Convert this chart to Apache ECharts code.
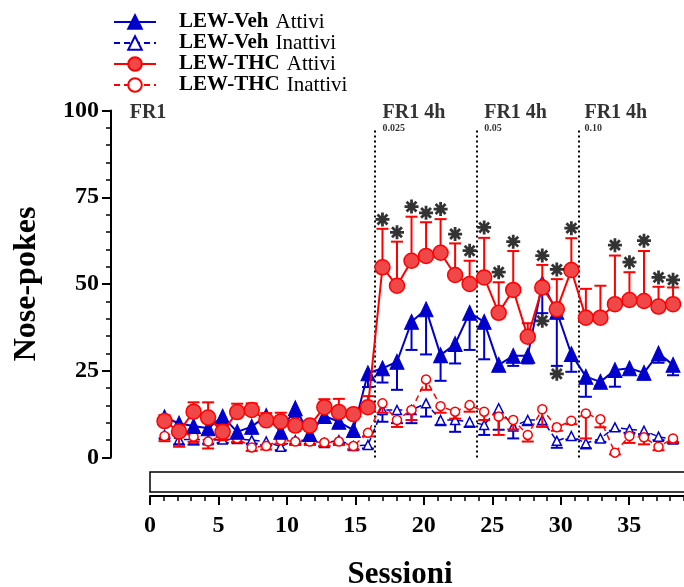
<!DOCTYPE html>
<html><head><meta charset="utf-8">
<script src="https://cdn.jsdelivr.net/npm/echarts@6/dist/echarts.min.js"></script>
<style>html,body{margin:0;padding:0;background:#fff}#c{width:684px;height:587px}</style>
</head><body><div id="c"></div>
<script>
// ---- data ----
const sessions = [1,2,3,4,5,6,7,8,9,10,11,12,13,14,15,16,17,18,19,20,21,22,23,24,25,26,27,28,29,30,31,32,33,34,35,36];
const xTicks = [0,5,10,15,20,25,30,35];
const yTicks = [0,25,50,75,100];
const groupNames = ['LEW-Veh','LEW-Veh','LEW-THC','LEW-THC'];
const statusNames = ['Attivi','Inattivi','Attivi','Inattivi'];

const vehAttivi = [11.6,9.8,9.1,8.4,11.8,7.4,8.9,12.0,7.4,14.2,6.8,12.0,10.3,7.9,24.3,25.7,27.6,39.1,42.7,29.5,32.7,41.7,39.1,26.7,29.3,29.3,50.2,42.0,29.8,23.3,21.8,25.2,25.7,24.4,30.0,26.7];
const vehAttiviSem = [1.5,1.5,1.5,1.5,2.5,1.5,2.0,2.5,1.5,2.5,1.5,2.0,1.5,1.5,4.0,4.1,8.1,8.1,13.0,7.4,5.6,10.7,10.8,1.5,2.9,2.2,8.6,15.6,5.1,5.8,1.2,4.8,1.3,1.9,2.7,3.0];
const vehInattivi = [6.5,5.2,5.2,5.0,5.2,5.3,5.0,4.6,3.1,5.0,4.9,4.2,5.0,3.3,3.6,13.7,13.7,13.7,15.6,10.8,10.8,10.3,9.4,14.2,8.9,10.8,10.8,4.8,6.2,4.1,5.5,8.7,8.1,7.7,6.0,5.2];
const vehInattiviSem = [1.0,1.5,1.5,1.0,1.0,1.0,1.0,1.0,1.0,1.0,1.0,1.0,1.0,1.0,1.0,3.4,3.8,3.8,3.8,1.5,3.4,1.5,2.9,6.2,3.4,1.5,1.9,2.0,1.0,1.5,1.0,1.0,1.0,1.0,1.0,1.0];
const thcAttivi = [10.5,7.5,13.2,11.5,7.4,13.1,13.7,10.7,10.4,9.2,9.2,14.5,13.1,12.5,14.5,54.8,49.5,56.7,58.1,59.0,52.6,50.0,51.9,41.7,48.3,34.8,49.0,42.7,54.0,40.3,40.3,44.2,45.4,45.1,43.5,44.2];
const thcAttiviSem = [1.7,1.0,2.7,4.4,2.0,2.4,1.9,2.1,2.5,1.3,1.3,2.3,3.8,1.0,3.2,11.1,12.7,12.7,9.7,9.7,9.1,6.7,11.4,8.8,11.2,3.9,6.5,8.7,9.2,8.3,9.2,14.0,8.0,14.4,5.7,4.8];
const thcInattivi = [6.2,7.5,6.0,4.6,6.5,5.5,2.9,3.3,5.0,4.6,4.6,4.3,4.6,3.3,7.1,15.6,10.8,13.7,22.5,14.8,13.2,15.1,13.2,11.8,10.8,6.5,13.9,8.7,10.6,12.7,11.0,1.4,6.2,5.8,3.1,5.5];
const thcInattiviSem = [1.5,4.4,1.5,2.0,1.5,1.0,1.0,1.0,1.0,1.0,1.0,1.0,1.0,1.0,1.0,2.7,2.0,2.9,3.0,1.9,2.0,1.9,2.4,5.3,2.7,1.9,5.0,1.0,1.0,7.2,2.3,0.5,2.0,2.0,1.0,1.0];

const starSessions = [16,17,18,19,20,21,22,23,24,25,27,28,29,32,33,34,35,36,27,28];
const starLevels   = [68.6,64.9,72.3,70.5,71.6,64.4,59.6,66.3,53.4,62.2,58.2,54.2,66.1,61.2,56.3,62.5,51.9,51.2,39.4,24.1];

const phaseBoundaries = [15.5,22.5,29.5];
const phaseLabels = ['FR1','FR1 4h','FR1 4h','FR1 4h'];
const phaseLabelX = [-1.4,16,23,29.9];
const doseLabels = ['0.025','0.05','0.10'];
const doseLabelX = [16,23,29.9];

// ---- chart ----
const FONT = '"Liberation Serif", "Times New Roman", serif';
const BLUE = '#0000CC', RED = '#FF0000', REDFILL = '#F04848';
const chart = echarts.init(document.getElementById('c'), null, {renderer:'canvas'});

function errSeries(vals, errs, dir, color, z){
  return {
    type:'custom', xAxisIndex:1, yAxisIndex:0, z:z, silent:true,
    data: sessions.map((s,i)=>[s, vals[i], vals[i] + dir*errs[i]]),
    renderItem(params, api){
      const p0 = api.coord([api.value(0), api.value(1)]);
      const p1 = api.coord([api.value(0), api.value(2)]);
      return {type:'group', children:[
        {type:'line', shape:{x1:p0[0],y1:p0[1],x2:p1[0],y2:p1[1]}, style:{stroke:color, lineWidth:2}},
        {type:'line', shape:{x1:p1[0]-6,y1:p1[1],x2:p1[0]+6,y2:p1[1]}, style:{stroke:color, lineWidth:2}}
      ]};
    }
  };
}
function pairs(vals){ return sessions.map((s,i)=>[s, vals[i]]); }

const STAR = 'path://M-1.2,-6L1.2,-6L1.2,6L-1.2,6Z M-6,-1.2L6,-1.2L6,1.2L-6,1.2Z M-5.1,-3.4L-3.4,-5.1L5.1,3.4L3.4,5.1Z M3.4,-5.1L5.1,-3.4L-3.4,5.1L-5.1,3.4Z';

const names = groupNames.map((g,i)=>g+' '+statusNames[i]);

const option = {
  animation:false,
  backgroundColor:'#fff',
  grid:{left:150, top:110.5, width:547.6, height:347, containLabel:false, outerBoundsMode:'none'},
  legend:{
    orient:'vertical', left:113, top:11.5, padding:0, itemGap:0, itemWidth:42, itemHeight:17,
    data: names, selectedMode:false,
    formatter: (n)=>{ const i = names.indexOf(n); return '{s|}{b|'+groupNames[i]+'}{g|}{n|'+statusNames[i]+'}'; },
    textStyle:{ color:'#000', rich:{
      s:{width:18, lineHeight:20},
      g:{width:7, lineHeight:20},
      b:{fontFamily:FONT, fontWeight:'bold', fontSize:21, lineHeight:20, color:'#000'},
      n:{fontFamily:FONT, fontWeight:'normal', fontSize:21, lineHeight:20, color:'#000'}
    }}
  },
  xAxis:[
    {type:'value', min:xTicks[0], max:40, interval:xTicks[1]-xTicks[0], offset:38.5, position:'bottom',
     axisLine:{show:true, onZero:false, lineStyle:{color:'#000', width:2}},
     axisTick:{show:true, length:9, lineStyle:{color:'#000', width:2}},
     minorTick:{show:true, splitNumber:5, length:5, lineStyle:{color:'#000', width:1.5}},
     axisLabel:{color:'#000', fontFamily:FONT, fontWeight:'bold', fontSize:24, margin:18,
       formatter:(v)=> xTicks.indexOf(v) >= 0 ? String(v) : ''},
     splitLine:{show:false}},
    {type:'value', min:0, max:37.69, show:false, axisLine:{onZero:false}}
  ],
  yAxis:{type:'value', min:yTicks[0], max:yTicks[yTicks.length-1], interval:yTicks[1]-yTicks[0], offset:39,
     axisLine:{show:true, onZero:false, lineStyle:{color:'#000', width:2}},
     axisTick:{show:true, length:9, lineStyle:{color:'#000', width:2}},
     minorTick:{show:true, splitNumber:5, length:5, lineStyle:{color:'#000', width:1.5}},
     axisLabel:{color:'#000', fontFamily:FONT, fontWeight:'bold', fontSize:24, margin:12},
     splitLine:{show:false},
     name:'Nose-pokes', nameLocation:'middle', nameGap:68,
     nameTextStyle:{color:'#000', fontFamily:FONT, fontWeight:'bold', fontSize:32}},
  graphic:[
    {type:'rect', shape:{x:150, y:472, width:560, height:20}, style:{fill:'#fff', stroke:'#000', lineWidth:1.5}, z:1},
    {type:'text', x:400, y:575, style:{text:'Sessioni', font:'bold 31px '+FONT, fill:'#000', align:'center', verticalAlign:'middle', textAlign:'center', textVerticalAlign:'middle'}}
  ],
  series:[
    errSeries(vehInattivi, vehInattiviSem, -1, BLUE, 2),
    {name:names[1], type:'line', xAxisIndex:1, z:3, data:pairs(vehInattivi), symbol:'triangle', symbolSize:9, showAllSymbol:true,
     lineStyle:{color:BLUE, width:1.5, type:[6,4]}, itemStyle:{color:'#fff', borderColor:BLUE, borderWidth:1.5}},
    errSeries(thcInattivi, thcInattiviSem, -1, RED, 4),
    {name:names[3], type:'line', xAxisIndex:1, z:5, data:pairs(thcInattivi), symbol:'circle', symbolSize:9, showAllSymbol:true,
     lineStyle:{color:RED, width:1.5, type:[6,4]}, itemStyle:{color:'#fff', borderColor:RED, borderWidth:1.5}},
    errSeries(vehAttivi, vehAttiviSem, -1, BLUE, 6),
    {name:names[0], type:'line', xAxisIndex:1, z:7, data:pairs(vehAttivi), symbol:'triangle', symbolSize:[14,15], showAllSymbol:true,
     lineStyle:{color:BLUE, width:2}, itemStyle:{color:BLUE, borderColor:BLUE, borderWidth:1}},
    errSeries(thcAttivi, thcAttiviSem, 1, RED, 8),
    {name:names[2], type:'line', xAxisIndex:1, z:9, data:pairs(thcAttivi), symbol:'circle', symbolSize:15, showAllSymbol:true,
     lineStyle:{color:RED, width:2}, itemStyle:{color:REDFILL, borderColor:RED, borderWidth:1.5}},
    {type:'scatter', xAxisIndex:1, z:10, silent:true, symbol:STAR, symbolSize:14, itemStyle:{color:'#000'},
     data: starSessions.map((s,i)=>[s, starLevels[i]])},
    {type:'scatter', xAxisIndex:1, z:10, silent:true, clip:false, symbolSize:0,
     data: phaseLabelX.map((x,i)=>({value:[x, 99.3], name:phaseLabels[i]})),
     label:{show:true, position:'right', distance:0, formatter:'{b}', color:'#000', fontFamily:FONT, fontWeight:'bold', fontSize:20},
     markLine:{silent:true, symbol:'none', animation:false, label:{show:false},
       lineStyle:{color:'#000', width:2, type:[2,3]},
       data: phaseBoundaries.map(b=>[{coord:[b,0]},{coord:[b,95]}])}},
    {type:'scatter', xAxisIndex:1, z:10, silent:true, clip:false, symbolSize:0,
     data: doseLabelX.map((x,i)=>({value:[x, 94.7], name:doseLabels[i]})),
     label:{show:true, position:'right', distance:0, formatter:'{b}', color:'#000', fontFamily:FONT, fontWeight:'bold', fontSize:10}}
  ]
};
chart.setOption(option);
</script></body></html>
